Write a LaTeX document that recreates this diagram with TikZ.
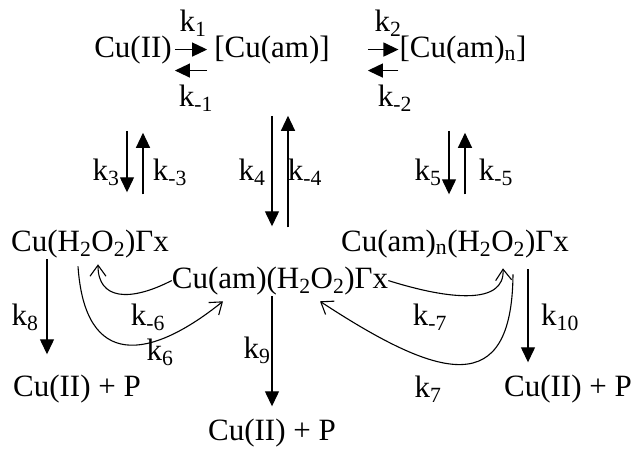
\documentclass[tikz,border=0pt]{standalone}
\usepackage{fontspec}
\setmainfont{Liberation Serif}
\usetikzlibrary{arrows.meta,positioning,calc}
\tikzset{
  species/.style={inner sep=0pt,anchor=base,font=\fontsize{31}{37}\selectfont},
  rate/.style={inner sep=0pt,anchor=base,font=\fontsize{31}{37}\selectfont},
  arrow/.style={-{Triangle[length=15pt,width=14pt]},line width=1.3pt},
  curlarrow/.style={-{Straight Barb[length=11pt,width=16pt]},line width=1.1pt}
}
\newcommand{\kr}[1]{k\textsubscript{#1}}
\newcommand{\lo}[1]{\textsubscript{#1}}

\begin{document}
\begin{tikzpicture}[x=1pt,y=-1pt]
  \path[use as bounding box] (0,0) rectangle (635,451);
  % species
  \node[species] (cu) at (133,57) {Cu(II)};
  \node[species] (cuam) at (272,57) {[Cu(am)]};
  \node[species] (cuamn) at (463,57) {[Cu(am)\lo{n}]};
  \node[species] (lft) at (90,251) {Cu(H\lo{2}O\lo{2})Γx};
  \node[species] (rgt) at (455,251) {Cu(am)\lo{n}(H\lo{2}O\lo{2})Γx};
  \node[species] (mid) at (280,288) {Cu(am)(H\lo{2}O\lo{2})Γx};
  \node[species] (pl) at (77,396) {Cu(II) + P};
  \node[species] (pm) at (272,440) {Cu(II) + P};
  \node[species] (pr) at (568,396) {Cu(II) + P};
  % rate constants
  \node[rate] (k1) at (193,31) {\kr{1}};
  \node[rate] (km1) at (196,106) {\kr{-1}};
  \node[rate] (k2) at (388,31) {\kr{2}};
  \node[rate] (km2) at (395,106) {\kr{-2}};
  \node[rate] (k3) at (106,180) {\kr{3}};
  \node[rate] (km3) at (170,180) {\kr{-3}};
  \node[rate] (k4) at (252,180) {\kr{4}};
  \node[rate] (km4) at (305,180) {\kr{-4}};
  \node[rate] (k5) at (428,180) {\kr{5}};
  \node[rate] (km5) at (496,180) {\kr{-5}};
  \node[rate] (k8) at (25,325) {\kr{8}};
  \node[rate] (km6) at (148,325) {\kr{-6}};
  \node[rate] (k6) at (160,360) {\kr{6}};
  \node[rate] (k9) at (257,358) {\kr{9}};
  \node[rate] (km7) at (430,325) {\kr{-7}};
  \node[rate] (k7) at (428,397) {\kr{7}};
  \node[rate] (k10) at (560,325) {\kr{10}};
  % complexation
  \draw[arrow,shorten <=3pt,shorten >=7pt] (cu.east) -- (cuam.west);
  \draw[arrow,shorten <=7pt,shorten >=3pt] ([yshift=-21pt]cuam.west) -- ([yshift=-21pt]cu.east);
  \draw[arrow,shorten <=38pt,shorten >=1pt] (cuam.east) -- (cuamn.west);
  \draw[arrow,shorten <=1pt,shorten >=38pt] ([yshift=-21pt]cuamn.west) -- ([yshift=-21pt]cuam.east);
  % peroxide binding
  \draw[arrow,shorten <=67pt,shorten >=37pt] ([xshift=-6pt]cu.south) -- ([xshift=37pt]lft.north);
  \draw[arrow,shorten <=35pt,shorten >=69pt] ([xshift=53pt]lft.north) -- ([xshift=10pt]cu.south);
  \draw[arrow,shorten <=52pt,shorten >=40pt] (cuam.south) -- ([xshift=-8pt]mid.north);
  \draw[arrow,shorten <=39pt,shorten >=52pt] ([xshift=8pt]mid.north) -- ([xshift=16pt]cuam.south);
  \draw[arrow,shorten <=67pt,shorten >=35pt] ([xshift=-14pt]cuamn.south) -- ([xshift=-6pt]rgt.north);
  \draw[arrow,shorten <=35pt,shorten >=69pt] ([xshift=10pt]rgt.north) -- ([xshift=2pt]cuamn.south);
  % decomposition
  \draw[arrow,shorten <=1.5pt,shorten >=20pt] ([xshift=-43pt]lft.south) -- ([xshift=-30pt]pl.north);
  \draw[arrow,shorten <=1.5pt,shorten >=12pt] ([xshift=-8pt]mid.south) -- (pm.north);
  \draw[arrow,shorten <=11.5pt,shorten >=12pt] ([xshift=73pt]rgt.south) -- ([xshift=-40pt]pr.north);
  % ligand exchange
  \draw[curlarrow] (mid.west) .. controls (130,302) and (98,300) .. ($(lft.south)+(8,6.5)$);
  \draw[curlarrow] ($(lft.south)+(-12,8.5)$) .. controls (85,370) and (150,360) .. ($(mid.south)+(-57,6.5)$);
  \draw[curlarrow] (mid.east) .. controls (450,300) and (505,305) .. ($(rgt.south)+(48,10.5)$);
  \draw[curlarrow] ($(rgt.south)+(58,16.5)$) .. controls (512,400) and (440,380) .. ($(mid.south)+(40,6.5)$);
\end{tikzpicture}
\end{document}
